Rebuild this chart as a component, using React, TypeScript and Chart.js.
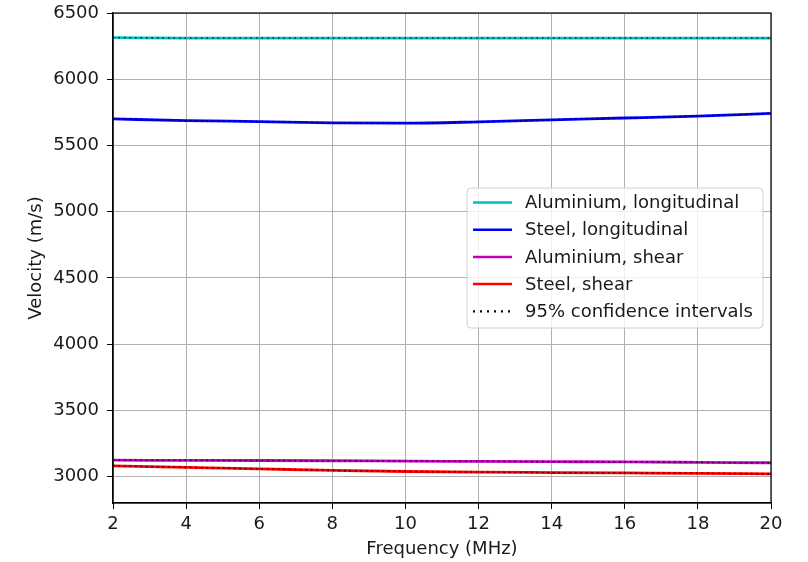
import React, { useEffect, useRef } from "react";
import { Chart, registerables } from "chart.js";
Chart.register(...registerables);

const frequencies = [2, 4, 6, 8, 10, 12, 14, 16, 18, 20];
const aluminiumLongitudinal = [6314, 6311, 6311, 6311, 6311, 6311, 6311, 6311, 6311, 6311];
const steelLongitudinal = [5700, 5688, 5680, 5671, 5668, 5678, 5693, 5707, 5722, 5742];
const aluminiumShear = [3123, 3122, 3121, 3119, 3116, 3114, 3112, 3110, 3107, 3104];
const steelShear = [3081, 3069, 3058, 3046, 3038, 3033, 3030, 3027, 3024, 3020];
const aluminiumLongitudinalCI = [1.5, 1, 1, 1, 1, 1, 1, 1, 1, 1];
const steelLongitudinalCI = [2, 1.5, 1.5, 1.5, 1.5, 1.5, 1.5, 1.5, 1.5, 2];
const aluminiumShearCI = [1, 1, 1, 1, 1, 1, 1, 1, 1, 1];
const steelShearCI = [2, 1.5, 1.5, 1.5, 1.5, 1.5, 1.5, 1.5, 1.5, 1.5];

const yTickValues = [3000, 3500, 4000, 4500, 5000, 5500, 6000, 6500];
const xTickValues = [2, 4, 6, 8, 10, 12, 14, 16, 18, 20];

const seriesNames = [
  "Aluminium, longitudinal",
  "Steel, longitudinal",
  "Aluminium, shear",
  "Steel, shear",
];
const ciLabel = "95% confidence intervals";
const seriesColors = ["#00bfbf", "#0000ff", "#bf00bf", "#ff0000"];
const seriesValues = [aluminiumLongitudinal, steelLongitudinal, aluminiumShear, steelShear];
const seriesCI = [aluminiumLongitudinalCI, steelLongitudinalCI, aluminiumShearCI, steelShearCI];

const FONT = "'DejaVu Sans', sans-serif";
const TEXT = "#1a1a1a";

const toPoints = (vals: number[], off: number[] | null, sign: number) =>
  frequencies.map((f, i) => ({ x: f, y: vals[i] + (off ? sign * off[i] : 0) }));

const framePlugin = {
  id: "frame",
  afterDatasetsDraw(chart: any) {
    const { ctx, chartArea: a } = chart;
    ctx.save();
    ctx.strokeStyle = "#000";
    ctx.lineWidth = 1.2;
    ctx.strokeRect(a.left, a.top, a.right - a.left, a.bottom - a.top);
    ctx.restore();
  },
  afterDraw(chart: any) {
    const { ctx, chartArea: a } = chart;
    ctx.save();
    ctx.font = `18px ${FONT}`;
    const labels = [...seriesNames, ciLabel];
    let maxW = 0;
    labels.forEach((l) => (maxW = Math.max(maxW, ctx.measureText(l).width)));
    const boxW = 58 + maxW + 10;
    const boxH = 140;
    const boxRight = a.right - 8;
    const boxLeft = boxRight - boxW;
    const cy = (a.top + a.bottom) / 2;
    const boxTop = cy - boxH / 2;
    ctx.beginPath();
    ctx.roundRect(boxLeft, boxTop, boxW, boxH, 4);
    ctx.fillStyle = "rgba(255,255,255,0.8)";
    ctx.fill();
    ctx.strokeStyle = "#d0d0d0";
    ctx.lineWidth = 1;
    ctx.stroke();
    labels.forEach((l, i) => {
      const y = boxTop + 14.5 + i * 27.2;
      ctx.beginPath();
      ctx.moveTo(boxLeft + 6, y);
      ctx.lineTo(boxLeft + 45, y);
      if (i < 4) {
        ctx.setLineDash([]);
        ctx.strokeStyle = seriesColors[i];
        ctx.lineWidth = 2.5;
      } else {
        ctx.setLineDash([2, 5]);
        ctx.strokeStyle = "#000";
        ctx.lineWidth = 2.2;
      }
      ctx.stroke();
      ctx.setLineDash([]);
      ctx.fillStyle = TEXT;
      ctx.textBaseline = "middle";
      ctx.textAlign = "left";
      ctx.fillText(l, boxLeft + 58, y + 1);
    });
    ctx.restore();
  },
};

export default function App() {
  const ref = useRef<HTMLCanvasElement>(null);
  useEffect(() => {
    if (!ref.current) return;
    const datasets: any[] = [];
    seriesValues.forEach((vals, i) => {
      datasets.push({
        label: seriesNames[i],
        data: toPoints(vals, null, 0),
        borderColor: seriesColors[i],
        backgroundColor: seriesColors[i],
        borderWidth: 2.8,
        pointRadius: 0,
        cubicInterpolationMode: "monotone",
        order: 2,
      });
    });
    seriesValues.forEach((vals, i) => {
      [1, -1].forEach((sign) => {
        datasets.push({
          label: ciLabel,
          data: toPoints(vals, seriesCI[i], sign),
          borderColor: "rgba(0,0,0,0.55)",
          borderWidth: 1.3,
          borderDash: [1.5, 4],
          pointRadius: 0,
          cubicInterpolationMode: "monotone",
          order: 1,
        });
      });
    });
    const font = { family: FONT, size: 18 };
    const chart = new Chart(ref.current, {
      type: "line",
      data: { datasets },
      plugins: [framePlugin],
      options: {
        responsive: false,
        animation: false,
        layout: { padding: { top: 13, right: 37, left: 0, bottom: 0 } },
        plugins: { legend: { display: false }, tooltip: { enabled: false } },
        scales: {
          x: {
            type: "linear",
            min: 2,
            max: 20,
            afterBuildTicks: (s: any) => {
              s.ticks = xTickValues.map((v) => ({ value: v }));
            },
            ticks: { font, color: TEXT, padding: 5, maxRotation: 0, callback: (v: any) => String(v) },
            grid: { color: "#b0b0b0", lineWidth: 1, tickColor: "#000", tickLength: 6 },
            border: { color: "#000", width: 1.2 },
            title: {
              display: true,
              text: "Frequency (MHz)",
              font,
              color: TEXT,
              padding: { top: 0, bottom: 2 },
            },
            afterFit: (s: any) => {
              s.height = 59;
              s.paddingLeft = 0;
              s.paddingRight = 0;
            },
          },
          y: {
            type: "linear",
            min: 2800,
            max: 6500,
            afterBuildTicks: (s: any) => {
              s.ticks = yTickValues.map((v) => ({ value: v }));
            },
            ticks: { font, color: TEXT, padding: 8, callback: (v: any) => String(v) },
            grid: { color: "#b0b0b0", lineWidth: 1, tickColor: "#000", tickLength: 6 },
            border: { color: "#000", width: 1.2 },
            title: {
              display: true,
              text: "Velocity (m/s)",
              font,
              color: TEXT,
              padding: { top: 26, bottom: 0 },
            },
            afterFit: (s: any) => {
              s.width = 113;
              s.paddingTop = 0;
              s.paddingBottom = 0;
            },
          },
        },
      } as any,
    });
    return () => chart.destroy();
  }, []);
  return (
    <div style={{ position: "fixed", left: 0, top: 0, width: 808, height: 562, background: "#fff" }}>
      <canvas ref={ref} width={808} height={562} style={{ width: 808, height: 562, display: "block" }} />
    </div>
  );
}
